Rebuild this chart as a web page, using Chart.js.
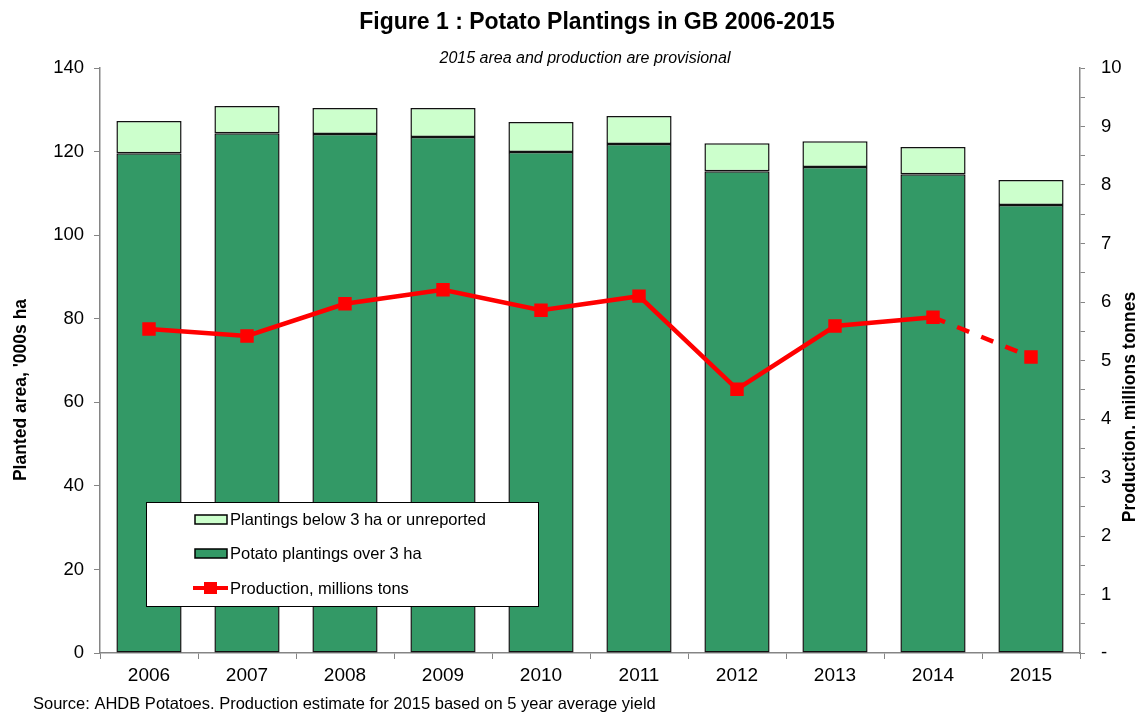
<!DOCTYPE html>
<html>
<head>
<meta charset="utf-8">
<script src="https://cdn.jsdelivr.net/npm/chart.js@4"></script>
<style>
  html, body { margin: 0; padding: 0; background: #fff; }
  #wrap { width: 1138px; height: 713px; }
</style>
</head>
<body>
<div id="wrap"><canvas id="chart" width="1138" height="713"></canvas></div>
<script>
const years = ['2006', '2007', '2008', '2009', '2010', '2011', '2012', '2013', '2014', '2015'];
const over3ha = [119.6, 124.4, 124.2, 123.5, 119.9, 121.8, 115.3, 116.3, 114.6, 107.2];
const below3ha = [7.7, 6.5, 6.2, 6.9, 7.2, 6.7, 6.7, 6.2, 6.5, 6.0];
const production = [5.54, 5.42, 5.97, 6.21, 5.86, 6.10, 4.51, 5.59, 5.74, 5.06];

const areaTicks = [0, 20, 40, 60, 80, 100, 120, 140];

const FONT = 'Liberation Sans, Arial, sans-serif';
const DARK = '#339966';
const LIGHT = '#CCFFCC';
const RED = '#FF0000';
const AXIS = '#858585';

// titles, axis titles, legend box and source note
const decorations = {
  id: 'decorations',
  afterDraw(chart) {
    const ctx = chart.ctx;
    ctx.save();
    ctx.fillStyle = '#000';
    ctx.textAlign = 'center';
    ctx.textBaseline = 'middle';
    ctx.font = `bold 23px ${FONT}`;
    ctx.fillText('Figure 1 : Potato Plantings in GB 2006-2015', 597, 23);
    ctx.font = `italic 16px ${FONT}`;
    ctx.fillText('2015 area and production are provisional', 585, 59);

    ctx.font = `bold 17.5px ${FONT}`;
    ctx.save();
    ctx.translate(21, 390);
    ctx.rotate(-Math.PI / 2);
    ctx.fillText("Planted area, '000s ha", 0, 0);
    ctx.restore();
    ctx.save();
    ctx.translate(1130, 407);
    ctx.rotate(-Math.PI / 2);
    ctx.fillText('Production. millions tonnes', 0, 0);
    ctx.restore();

    ctx.textAlign = 'left';
    ctx.font = `16.5px ${FONT}`;
    ctx.fillText('Source: AHDB Potatoes. Production estimate for 2015 based on 5 year average yield', 33, 704);

    // legend box
    const bx = 146, by = 502, bw = 392, bh = 104;
    ctx.fillStyle = '#fff';
    ctx.fillRect(bx, by, bw, bh);
    ctx.strokeStyle = '#000';
    ctx.lineWidth = 1;
    ctx.strokeRect(bx + 0.5, by + 0.5, bw, bh);

    const ds = chart.data.datasets;
    const rows = [ds[1], ds[0], ds[2]];
    const rowY = [519, 553, 588];
    ctx.font = `16.5px ${FONT}`;
    rows.forEach((d, i) => {
      const y = rowY[i];
      if (d.type === 'line') {
        ctx.strokeStyle = d.borderColor;
        ctx.lineWidth = 4;
        ctx.beginPath();
        ctx.moveTo(193, y);
        ctx.lineTo(228, y);
        ctx.stroke();
        ctx.fillStyle = d.borderColor;
        ctx.fillRect(204, y - 6, 13, 12);
      } else {
        ctx.fillStyle = d.backgroundColor;
        ctx.fillRect(195, y - 4, 32, 9);
        ctx.strokeStyle = '#000';
        ctx.lineWidth = 1.5;
        ctx.strokeRect(195, y - 4, 32, 9);
      }
      ctx.fillStyle = '#000';
      ctx.fillText(d.label, 230, y + 1);
    });
    ctx.restore();
  }
};

new Chart(document.getElementById('chart'), {
  type: 'bar',
  data: {
    labels: years,
    datasets: [
      {
        label: 'Potato plantings over 3 ha',
        data: over3ha,
        backgroundColor: DARK,
        borderColor: '#111',
        borderWidth: 1.5,
        borderSkipped: false,
        yAxisID: 'y',
        order: 1
      },
      {
        label: 'Plantings below 3 ha or unreported',
        data: below3ha,
        backgroundColor: LIGHT,
        borderColor: '#111',
        borderWidth: 1.5,
        borderSkipped: false,
        yAxisID: 'y',
        order: 1
      },
      {
        type: 'line',
        label: 'Production, millions tons',
        data: production,
        borderColor: RED,
        backgroundColor: RED,
        borderWidth: 4.5,
        pointStyle: 'rect',
        pointRadius: 9.5,
        pointBorderWidth: 0,
        pointBackgroundColor: RED,
        yAxisID: 'y1',
        order: 0,
        segment: {
          borderDash: c => (c.p1DataIndex === years.length - 1 ? [13, 13] : undefined)
        }
      }
    ]
  },
  options: {
    responsive: false,
    animation: false,
    layout: { padding: { top: 68, left: 0, right: 0, bottom: 0 } },
    datasets: { bar: { barPercentage: 0.665, categoryPercentage: 1 } },
    plugins: {
      legend: { display: false },
      tooltip: { enabled: false }
    },
    scales: {
      x: {
        stacked: true,
        afterFit: axis => { axis.height = 60; },
        grid: { offset: true, drawOnChartArea: false, tickLength: 6, color: AXIS },
        border: { color: AXIS, width: 1.5 },
        ticks: { color: '#000', font: { family: FONT, size: 19 }, padding: 5 }
      },
      y: {
        stacked: true,
        position: 'left',
        min: 0,
        max: 140,
        afterFit: axis => { axis.width = 100; },
        afterBuildTicks: axis => { axis.ticks = areaTicks.map(v => ({ value: v })); },
        grid: { drawOnChartArea: false, tickLength: 6, color: AXIS },
        border: { color: AXIS, width: 1.5 },
        ticks: { color: '#000', font: { family: FONT, size: 18.5 }, padding: 10 }
      },
      y1: {
        position: 'right',
        min: 0,
        max: 10,
        afterFit: axis => { axis.width = 58; },
        ticks: {
          stepSize: 0.5,
          color: '#000',
          font: { family: FONT, size: 18.5 },
          padding: 16,
          callback: v => (v === 0 ? '-' : Number.isInteger(v) ? v : '')
        },
        grid: { drawOnChartArea: false, tickLength: 5, color: AXIS },
        border: { color: AXIS, width: 1.5 }
      }
    }
  },
  plugins: [decorations]
});
</script>
</body>
</html>
